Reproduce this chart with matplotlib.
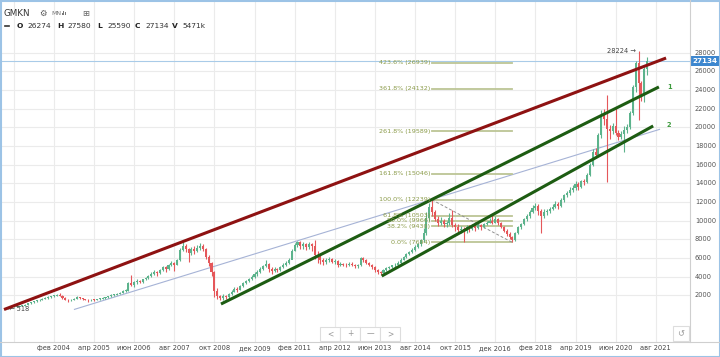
import numpy as np
import matplotlib
matplotlib.use("Agg")
import matplotlib.pyplot as plt
from matplotlib.patches import Rectangle

# monthly candles GMKN, first bar = Sep 2002, last bar = May 2021
start_year, start_month = 2002, 9
first_open = 540

closes = [580, 650, 700, 760,
          800, 850, 900, 1000, 1150, 1250, 1350, 1450, 1550, 1600, 1700, 1800,
          1900, 1980, 2080, 1950, 1700, 1550, 1450, 1500, 1650, 1800, 1700, 1600,
          1550, 1450, 1520, 1500, 1580, 1650, 1700, 1780, 1900, 2000, 2080, 2180,
          2300, 2450, 2500, 3300, 3150, 3400, 3550, 3450, 3700, 3900, 4100, 4300,
          4500, 4350, 4700, 5000, 4800, 5200, 5500, 5300, 5800, 6900, 7300, 7000,
          6500, 7000, 6800, 7100, 7300, 7000, 6100, 5500, 4500, 2500, 1900, 1700,
          1900, 1800, 2100, 2400, 2700, 2600, 3000, 3300, 3500, 3700, 4000, 4300,
          4500, 4800, 5100, 5400, 4800, 4600, 4800, 4700, 5000, 5300, 5450, 5800,
          6800, 7400, 7700, 7300, 7500, 7200, 7500, 7300, 6300, 6100, 5800, 5600,
          5800, 5900, 5600, 5700, 5300, 5400, 5300, 5200, 5400, 5300, 5100, 5200,
          6000, 5800, 5500, 5300, 5000, 4700, 4500, 4400, 4700, 4900, 5000, 5200,
          5300, 5500, 5800, 6100, 6400, 6600, 6900, 7200, 7500, 7900, 8700, 10300,
          11500, 10900, 10200, 9700, 10000, 9600, 9700, 10300, 9500, 9300, 9000, 9100,
          8900, 9300, 9100, 9400, 9200, 9500, 9300, 9600, 9800, 10000, 9800, 10200,
          9700, 9300, 8900, 8600, 8300, 7900, 8700, 9300, 9600, 10200, 10500, 10900,
          11400, 11600, 11000, 10500, 10900, 11000, 11200, 11500, 11800, 11600, 12200, 12700,
          13000, 13300, 13500, 13900, 13600, 14200, 14100, 14900, 16000, 17400, 17000, 19200,
          21200, 20900, 19800, 19600, 20100, 19400, 19000, 19300, 19700, 20000, 21500, 24300,
          26900, 24700, 23400, 26274, 27134]

highs = [610, 680, 730, 790,
         840, 900, 960, 1050, 1200, 1320, 1420, 1520, 1620, 1700, 1780, 1880,
         1980, 2060, 2150, 2300, 2000, 1780, 1600, 1580, 1720, 1950, 1850, 1750,
         1650, 1600, 1600, 1600, 1650, 1720, 1780, 1850, 1980, 2100, 2150, 2280,
         2400, 2550, 2650, 3450, 4150, 3500, 3700, 3650, 3800, 4000, 4200, 4450,
         4700, 4650, 4850, 5150, 5100, 5350, 5700, 5600, 5900, 7100, 7750, 7500,
         7100, 7200, 7300, 7350, 7600, 7500, 7100, 6300, 5600, 4600, 2800, 2050,
         2100, 2050, 2250, 2550, 2900, 2850, 3150, 3450, 3650, 3900, 4150, 4450,
         4750, 5000, 5300, 5800, 5450, 5000, 5000, 4950, 5150, 5450, 5650, 5950,
         7000, 7600, 7850, 7800, 7700, 7600, 7700, 7600, 7930, 6700, 6300, 6000,
         6000, 6100, 6000, 5900, 5750, 5600, 5500, 5450, 5600, 5550, 5400, 5350,
         6150, 6100, 5900, 5600, 5350, 5100, 4800, 4600, 4800, 5000, 5150, 5300,
         5450, 5650, 5950, 6250, 6550, 6800, 7050, 7350, 7650, 8050, 9200, 10900,
         11900, 12239, 11100, 10500, 10400, 10200, 10000, 10800, 11150, 9800, 9600, 9400,
         9300, 9500, 9500, 9600, 9550, 9700, 9650, 9800, 10000, 10300, 10610, 10500,
         10300, 9900, 9400, 9100, 8800, 8400, 8800, 9400, 9800, 10300, 10700, 11100,
         11700, 11900, 11800, 11300, 11200, 11300, 11500, 11800, 12100, 12000, 12400, 12900,
         13200, 13600, 13800, 14200, 14100, 14400, 14500, 15100, 16200, 17700, 17800, 19400,
         21900, 22000, 23470, 20200, 20500, 22200, 19700, 19600, 20100, 20400, 21800, 24500,
         27100, 28224, 25000, 26500, 27580]

lows = [518, 560, 630, 680,
        740, 780, 820, 880, 980, 1120, 1220, 1320, 1420, 1500, 1560, 1660,
        1760, 1850, 1940, 1880, 1600, 1450, 1320, 1380, 1460, 1600, 1620, 1500,
        1450, 1250, 1400, 1420, 1450, 1540, 1600, 1650, 1760, 1860, 1950, 2040,
        2150, 2250, 2380, 2480, 2950, 2900, 3250, 3300, 3350, 3650, 3800, 4000,
        4200, 4100, 4250, 4600, 4500, 4750, 5100, 4600, 5200, 5700, 6700, 6600,
        5600, 6300, 6400, 6600, 6900, 6700, 5900, 5100, 4100, 1800, 1650, 1500,
        1550, 1650, 1750, 2050, 2350, 2400, 2550, 2900, 3200, 3400, 3600, 3900,
        4100, 4350, 4700, 5000, 4500, 4300, 4450, 4450, 4600, 4900, 5150, 5350,
        6100, 6700, 7200, 7000, 7000, 6900, 7000, 6800, 5900, 5500, 5400, 5300,
        5400, 5600, 5450, 5350, 5000, 5100, 5100, 5000, 5100, 5100, 4900, 4950,
        5150, 5600, 5350, 5100, 4800, 4500, 4300, 4180, 4350, 4600, 4800, 4900,
        5000, 5200, 5400, 5750, 6000, 6300, 6500, 6800, 7050, 7300, 7700, 8500,
        10000, 10500, 10000, 9400, 9500, 9300, 9300, 9500, 9300, 8900, 8700, 8700,
        7750, 8700, 8800, 9000, 8900, 9100, 9000, 9200, 9500, 9700, 9600, 9700,
        9500, 9200, 8800, 8400, 8000, 7685, 7800, 8600, 9100, 9500, 10000, 10300,
        10800, 11100, 10600, 8700, 10300, 10600, 10800, 11100, 11400, 11200, 11500, 12000,
        12500, 12800, 13100, 13300, 13300, 13500, 13800, 14000, 14800, 15900, 16700, 16900,
        18900, 20200, 14180, 18700, 19300, 19200, 18600, 18800, 17400, 19400, 19800, 21300,
        23800, 20800, 22800, 22750, 25590]

header_ohlc = [("O", "26274"), ("H", "27580"), ("L", "25590"), ("C", "27134"), ("V", "5471k")]
last_price = 27134
max_label = 28224
min_label = 518

# x tick labels every 14 months, anchor Aug 2014 = month 0
tick_labels = ["фев 2004", "апр 2005", "июн 2006", "авг 2007", "окт 2008", "дек 2009",
               "фев 2011", "апр 2012", "июн 2013", "авг 2014", "окт 2015", "дек 2016",
               "фев 2018", "апр 2019", "июн 2020", "авг 2021"]
tick_months = [-126, -112, -98, -84, -70, -56, -42, -28, -14, 0, 14, 28, 42, 56, 70, 84]
price_ticks = list(range(2000, 28001, 2000))

# drawn lines: (month, price) end points
red_line = [(-143.4, 480), (87.6, 27430)]
green_line1 = [(-67.7, 1070), (85.1, 24330)]
green_line2 = [(-11.6, 4070), (83.1, 20150)]
thin_line = [(-119.0, 480), (85.5, 19800)]

# fibonacci retracement, from Feb 2015 high to Jun 2017 low
fib_span = (5.9, 33.8)
fib_levels = [0.0, 0.382, 0.5, 0.618, 1.0, 1.618, 2.618, 3.618, 4.236]
fib_values = [7694, 9430, 9966, 10503, 12239, 15046, 19589, 24132, 26939]

opens = [first_open] + closes[:-1]
n = len(closes)
base = 2014 * 12 + 7
months = np.array([start_year * 12 + start_month - 1 + i - base for i in range(n)])
o = np.array(opens, float)
c = np.array(closes, float)
h = np.array(highs, float)
l = np.array(lows, float)

up_col = "#5cb38c"
dn_col = "#e5575a"
cols = np.where(c >= o, up_col, dn_col)

W, H = 720, 357
fig = plt.figure(figsize=(7.2, 3.57), dpi=100)
fig.patch.set_facecolor("white")
ax = fig.add_axes([0, 15 / H, 690 / W, 341 / H])
ax.set_xlim(-144.8, 95.95)
ax.set_ylim(-3000, 33540)
for s in ax.spines.values():
    s.set_visible(False)
ax.set_xticks([])
ax.set_yticks([])

# grid
for m in [-140] + tick_months:
    ax.axvline(m, color="#ebebeb", lw=0.8, zorder=0)
for p in price_ticks:
    ax.axhline(p, color="#ebebeb", lw=0.8, zorder=0)

# last price line
ax.axhline(last_price, color="#a9cbe8", lw=0.8, zorder=1)

# candles
ax.vlines(months, l, h, colors=cols, lw=0.8, zorder=3)
body = np.maximum(np.abs(c - o), 90)
ax.bar(months, body, bottom=np.minimum(o, c), width=0.72, color=cols, lw=0, zorder=3)

# trend lines
def seg(pts, **kw):
    ax.plot([pts[0][0], pts[1][0]], [pts[0][1], pts[1][1]], solid_capstyle="butt", **kw)

seg(thin_line, color="#a6b3d6", lw=0.8, zorder=2)
seg(red_line, color="#8e1212", lw=2.2, zorder=4)
seg(green_line1, color="#1d5c12", lw=2.2, zorder=4)
seg(green_line2, color="#1d5c12", lw=2.2, zorder=4)
ax.text(green_line1[1][0] + 3.7, green_line1[1][1], "1", color="#3c9a3c", fontsize=4.8,
        fontweight="bold", ha="center", va="center")
ax.text(green_line2[1][0] + 5.6, green_line2[1][1] + 150, "2", color="#3c9a3c", fontsize=4.8,
        fontweight="bold", ha="center", va="center")

# fibonacci
for lev, val in zip(fib_levels, fib_values):
    ax.plot(fib_span, [val, val], color="#bcc595", lw=1.3, zorder=2)
    ax.text(fib_span[0] - 0.6, val, "%.1f%% (%d)" % (lev * 100, val), color="#8a9a48",
            fontsize=4.6, ha="right", va="center", zorder=5)
ax.plot(fib_span, [fib_values[4], fib_values[0]], color="#909090", lw=0.7,
        ls=(0, (3, 2)), zorder=2)

# extremes
imax = int(np.argmax(h))
ax.text(months[imax] - 0.8, max_label, "%d \u2192" % max_label, color="#444444",
        fontsize=4.8, ha="right", va="center")
imin = int(np.argmin(l))
ax.text(months[imin] + 1.4, min_label, "\u2190 %d" % min_label, color="#444444",
        fontsize=4.8, ha="left", va="center")

# axis labels
for m, t in zip(tick_months, tick_labels):
    ax.text(m, -3000 - 900, t, ha="center", va="baseline", fontsize=4.8, color="#444444",
            clip_on=False)
ytr = ax.get_yaxis_transform()
for p in price_ticks:
    ax.text(1.0072, p, str(p), transform=ytr, ha="left", va="center", fontsize=4.8,
            color="#555555", clip_on=False)
ax.text(1.004, last_price, str(last_price), transform=ytr, ha="left", va="center",
        fontsize=5.2, color="white", fontweight="bold", clip_on=False, zorder=10,
        bbox=dict(boxstyle="square,pad=0.3", fc="#3d87cf", ec="none"))

# chrome overlay in pixel coords
ov = fig.add_axes([0, 0, 1, 1], zorder=20)
ov.set_xlim(0, W)
ov.set_ylim(H, 0)
ov.axis("off")
ov.plot([690, 690], [0, 342], color="#cfcfcf", lw=0.8)
ov.plot([0, 720], [342, 342], color="#cfcfcf", lw=0.8)
ov.add_patch(Rectangle((0.5, 0.5), W - 1, H - 1, fill=False, ec="#9cc3e6", lw=1.5))

ov.text(4, 13, "GMKN", fontsize=6.3, color="#333333", va="center")
ov.text(39, 13, "\u2699", fontsize=6, color="#555555", va="center")
ov.text(51, 13.5, "MN", fontsize=4.5, color="#777777", va="center")
for i, hh in enumerate([2.5, 4, 3]):
    ov.add_patch(Rectangle((61.5 + i * 1.8, 15 - hh), 1.0, hh, color="#777777", lw=0))
ov.text(82, 13, "\u229e", fontsize=6, color="#666666", va="center")

ov.plot([5, 9], [26, 26], color="#333333", lw=1.2)
xs = [17, 57, 97, 135, 172]
for (k, v), x0 in zip(header_ohlc, xs):
    ov.text(x0, 26, k, fontsize=5.4, fontweight="bold", color="#222222", va="center")
    ov.text(x0 + 10.5, 26, v, fontsize=5.4, color="#333333", va="center")

# navigation buttons
for x0, sym in zip([320, 340, 360, 380], ["<", "+", "\u2014", ">"]):
    ov.add_patch(Rectangle((x0, 326.5), 20, 14, fc="white", ec="#dddddd", lw=0.8))
    ov.text(x0 + 10, 333.5, sym, fontsize=5.5, color="#999999", ha="center", va="center")
ov.add_patch(Rectangle((673, 326), 16, 15, fc="white", ec="#dddddd", lw=0.8))
ov.text(681, 333.5, "\u21ba", fontsize=6, color="#999999", ha="center", va="center")

fig.savefig("out.png", dpi=100)
